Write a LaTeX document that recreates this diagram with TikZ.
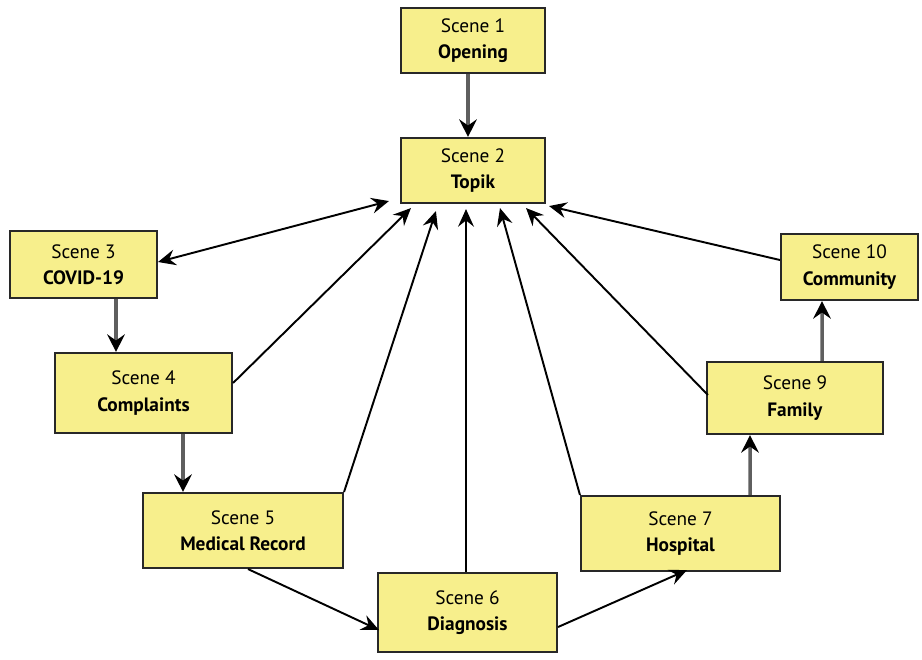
\documentclass[tikz,border=0pt]{standalone}
\usepackage{fontspec}
\setmainfont{PT Sans}
\usetikzlibrary{arrows.meta, positioning, calc}
\definecolor{sceneYellow}{RGB}{247, 239, 140}
\definecolor{sceneEdge}{RGB}{40, 40, 40}
\definecolor{feedGray}{RGB}{95, 95, 95}
\tikzset{
    sceneBox/.style={draw=sceneEdge, line width=1.2pt, fill=sceneYellow,
        align=center, inner sep=2pt, font=\fontsize{11}{15}\selectfont},
    linkArrow/.style={line width=1.1pt, -{Stealth[length=10pt, width=9pt, inset=3.5pt]}},
    bothArrow/.style={line width=1.1pt, {Stealth[length=10pt, width=9pt, inset=3.5pt]}-{Stealth[length=10pt, width=9pt, inset=3.5pt]}},
    feedArrow/.style={line width=2pt, feedGray, -{Stealth[length=10pt, width=10pt, inset=3.5pt, black]}},
}

\begin{document}
\begin{tikzpicture}

    \useasboundingbox (0,0) rectangle (18.44,-13.18);

    % Scenes
    \node[sceneBox, minimum width=2.88cm, minimum height=1.3cm] (S1) at (9.46,-0.81)
        {Scene 1\\\textbf{Opening}};
    \node[sceneBox, minimum width=2.88cm, minimum height=1.3cm] (S2) at (9.46,-3.41)
        {Scene 2\\\textbf{Topik}};
    \node[sceneBox, minimum width=2.94cm, minimum height=1.34cm] (S3) at (1.67,-5.29)
        {Scene 3\\\textbf{COVID-19}};
    \node[sceneBox, minimum width=3.54cm, minimum height=1.6cm] (S4) at (2.87,-7.86)
        {Scene 4\\\textbf{Complaints}};
    \node[sceneBox, minimum width=4.0cm, minimum height=1.5cm] (S5) at (4.86,-10.61)
        {Scene 5\\\textbf{Medical Record}};
    \node[sceneBox, minimum width=3.58cm, minimum height=1.58cm] (S6) at (9.35,-12.25)
        {Scene 6\\\textbf{Diagnosis}};
    \node[sceneBox, minimum width=3.98cm, minimum height=1.5cm] (S7) at (13.61,-10.67)
        {Scene 7\\\textbf{Hospital}};
    \node[sceneBox, minimum width=3.52cm, minimum height=1.44cm] (S9) at (15.9,-7.96)
        {Scene 9\\\textbf{Family}};
    \node[sceneBox, minimum width=2.74cm, minimum height=1.32cm] (S10) at (16.99,-5.34)
        {Scene 10\\\textbf{Community}};

    % Sequence arrows
    \draw[feedArrow] ($(S1.south)+(-0.1,0)$) -- ($(S2.north)+(-0.1,0)$);
    \draw[feedArrow] ($(S3.south)+(0.65,0)$) -- ($(S4.north)+(-0.55,0)$);
    \draw[feedArrow] ($(S4.south)+(0.79,0)$) -- ($(S5.north)+(-1.2,0)$);
    \draw[feedArrow] ($(S7.north)+(1.39,0)$) -- ($(S9.south)+(-0.9,0)$);
    \draw[feedArrow] ($(S9.north)+(0.54,0)$) -- ($(S10.south)+(-0.55,0)$);

    % Links to Topik
    \draw[bothArrow] ($(S3.east)+(0,0.05)$) -- ($(S2.south west)+(-0.22,0.06)$);
    \draw[linkArrow] ($(S4.east)+(0,0.2)$) -- ($(S2.south west)+(0.22,-0.08)$);
    \draw[linkArrow] (S5.north east) -- ($(S2.south west)+(0.72,-0.14)$);
    \draw[linkArrow] ($(S6.north)+(-0.03,0)$) -- ($(S2.south)+(-0.14,-0.1)$);
    \draw[linkArrow] (S7.north west) -- ($(S2.south)+(0.54,-0.08)$);
    \draw[linkArrow] ($(S9.west)+(0.04,0.06)$) -- ($(S2.south east)+(-0.4,-0.08)$);
    \draw[linkArrow] ($(S10.west)+(0,0.14)$) -- ($(S2.south east)+(0.06,-0.04)$);

    % Bottom chain
    \draw[linkArrow] ($(S5.south)+(0.1,0)$) -- ($(S6.west)+(0.04,-0.35)$);
    \draw[linkArrow] ($(S6.east)+(0,-0.29)$) -- ($(S7.south)+(0.13,0.04)$);

\end{tikzpicture}
\end{document}
